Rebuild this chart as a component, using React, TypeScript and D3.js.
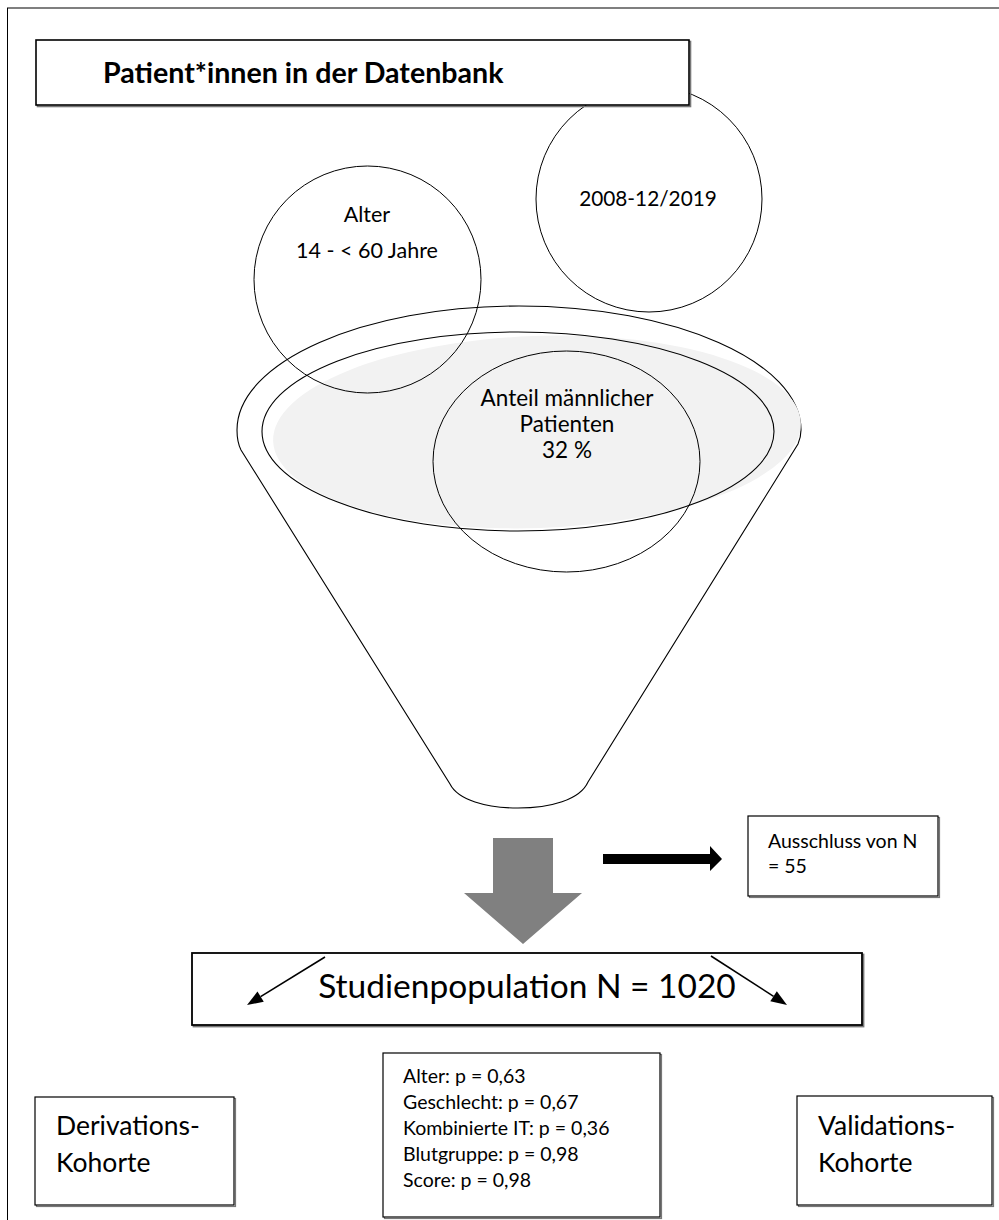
import { useEffect } from "react";
import * as d3 from "d3";

const titleLabel = "Patient*innen in der Datenbank";
const periodLabel = "2008-12/2019";
const ageLines = ["Alter", "14 - < 60 Jahre"];
const maleLines = ["Anteil männlicher", "Patienten", "32 %"];
const exclusionLines = ["Ausschluss von N", "= 55"];
const populationLabel = "Studienpopulation N = 1020";
const statLines = [
  "Alter: p = 0,63",
  "Geschlecht: p = 0,67",
  "Kombinierte IT: p = 0,36",
  "Blutgruppe: p = 0,98",
  "Score: p = 0,98",
];
const derivationLines = ["Derivations-", "Kohorte"];
const validationLines = ["Validations-", "Kohorte"];

const FONT = "Lato, Carlito, 'Open Sans', sans-serif";
const W = 999;
const H = 1220;

function funnelPath() {
  const p = d3.path();
  p.moveTo(237, 430);
  // top rim (upper half of outer ellipse)
  p.bezierCurveTo(237, 362, 363, 306, 519, 306);
  p.bezierCurveTo(675, 306, 801, 362, 801, 430);
  p.quadraticCurveTo(801, 437, 798, 444);
  p.lineTo(588, 782);
  p.bezierCurveTo(580, 800, 550, 808, 518, 808);
  p.bezierCurveTo(486, 808, 458, 800, 450, 784);
  p.lineTo(241, 450);
  p.quadraticCurveTo(237, 442, 237, 430);
  p.closePath();
  return p.toString();
}

function blockArrowDown() {
  const p = d3.path();
  p.moveTo(493, 838);
  p.lineTo(553, 838);
  p.lineTo(553, 893);
  p.lineTo(582, 893);
  p.lineTo(523, 944);
  p.lineTo(464, 893);
  p.lineTo(493, 893);
  p.closePath();
  return p.toString();
}

function blockArrowRight() {
  const p = d3.path();
  p.moveTo(603, 854);
  p.lineTo(710, 854);
  p.lineTo(710, 846);
  p.lineTo(722, 859);
  p.lineTo(710, 871);
  p.lineTo(710, 864);
  p.lineTo(603, 864);
  p.closePath();
  return p.toString();
}

function Box({ x, y, w, h, sw = 1.2 }: { x: number; y: number; w: number; h: number; sw?: number }) {
  return (
    <g>
      <rect x={x + 1.5} y={y + 1.5} width={w} height={h} fill="none" stroke="#777" strokeWidth={sw} />
      <rect x={x} y={y} width={w} height={h} fill="#fff" stroke="#000" strokeWidth={sw} />
    </g>
  );
}

export default function App() {
  useEffect(() => {
    document.body.style.margin = "0";
  }, []);

  const lineArrow = (x1: number, y1: number, x2: number, y2: number) => {
    const ang = Math.atan2(y2 - y1, x2 - x1);
    const len = 16;
    const half = 6;
    const bx = x2 - len * Math.cos(ang);
    const by = y2 - len * Math.sin(ang);
    const nx = -Math.sin(ang) * half;
    const ny = Math.cos(ang) * half;
    const head = d3.path();
    head.moveTo(x2, y2);
    head.lineTo(bx + nx, by + ny);
    head.lineTo(bx - nx, by - ny);
    head.closePath();
    return (
      <g>
        <line x1={x1} y1={y1} x2={bx} y2={by} stroke="#000" strokeWidth={1.6} />
        <path d={head.toString()} fill="#000" />
      </g>
    );
  };

  return (
    <svg width={W} height={H} style={{ display: "block", background: "#fff" }} fontFamily={FONT}>
      <rect x={7.5} y={8} width={1100} height={1400} fill="none" stroke="#000" strokeWidth={1} />

      {/* funnel */}
      <path d={funnelPath()} fill="#fff" stroke="#000" strokeWidth={1.1} />
      <ellipse cx={537} cy={432} rx={264} ry={96} fill="#f2f2f2" transform="rotate(-2 537 432)" />
      <ellipse cx={518} cy={431.5} rx={256} ry={99.5} fill="none" stroke="#000" strokeWidth={1.1} />

      {/* circles */}
      <circle cx={649} cy={199} r={113} fill="none" stroke="#000" strokeWidth={1} />
      <circle cx={367.5} cy={279.5} r={113.5} fill="none" stroke="#000" strokeWidth={1} />
      <ellipse cx={566.5} cy={461.5} rx={133.5} ry={110.5} fill="none" stroke="#000" strokeWidth={1} />

      {/* title */}
      <Box x={36} y={40} w={653} h={65} sw={1.6} />
      <text x={103} y={83} fontSize={28.6} fontWeight={700} fill="#000">
        {titleLabel}
      </text>

      <text x={648} y={206} fontSize={20.8} textAnchor="middle" fill="#000">
        {periodLabel}
      </text>
      {ageLines.map((t, i) => (
        <text key={t} x={367} y={222 + i * 36} fontSize={21.5} textAnchor="middle" fill="#000">
          {t}
        </text>
      ))}
      {maleLines.map((t, i) => (
        <text key={t} x={567} y={406 + i * 26} fontSize={22.5} textAnchor="middle" fill="#000">
          {t}
        </text>
      ))}

      {/* arrows */}
      <path d={blockArrowDown()} fill="#808080" />
      <path d={blockArrowRight()} fill="#000" />

      <Box x={748} y={816} w={190} h={80} />
      {exclusionLines.map((t, i) => (
        <text key={t} x={768} y={848 + i * 25} fontSize={19.5} fill="#000">
          {t}
        </text>
      ))}

      <Box x={192} y={953} w={670} h={72} sw={1.8} />
      <text x={527} y={998} fontSize={33.5} textAnchor="middle" fill="#000">
        {populationLabel}
      </text>
      {lineArrow(325, 957, 247, 1005)}
      {lineArrow(711, 956, 787, 1005)}

      <Box x={383} y={1053} w={277} h={164} />
      {statLines.map((t, i) => (
        <text key={t} x={403} y={1083 + i * 26} fontSize={19.5} fill="#000">
          {t}
        </text>
      ))}

      <Box x={35} y={1097} w={199} h={108} />
      {derivationLines.map((t, i) => (
        <text key={t} x={56} y={1135 + i * 37} fontSize={26.5} fill="#000">
          {t}
        </text>
      ))}

      <Box x={797} y={1096} w={195} h={109} />
      {validationLines.map((t, i) => (
        <text key={t} x={818} y={1135 + i * 37} fontSize={26.5} fill="#000">
          {t}
        </text>
      ))}
    </svg>
  );
}
